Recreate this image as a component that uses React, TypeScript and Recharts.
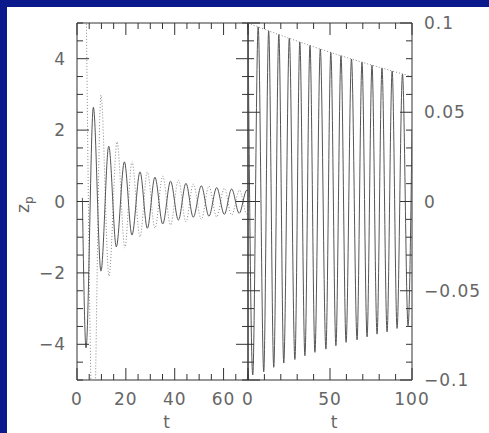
import React from 'react';
import { LineChart, Line, XAxis, YAxis, ReferenceArea } from 'recharts';

// left panel: z_p(t), solid and dotted runs (peaks / troughs)
const leftSolidT = [2.2, 3.7, 6.7, 9.8, 13.0, 16.1, 19.4, 22.5, 25.8, 28.8, 31.9, 35.1, 38.3, 41.5, 44.6, 47.6, 50.9, 54.0, 57.2, 60.3, 63.3, 66.4, 69.5, 70];
const leftSolidZ = [0.1, -4.1, 2.64, -1.95, 1.55, -1.27, 1.11, -0.94, 0.83, -0.75, 0.68, -0.63, 0.57, -0.52, 0.51, -0.44, 0.44, -0.41, 0.39, -0.36, 0.35, -0.33, 0.32, 0.31];
const leftDotT = [3.5, 6.7, 9.8, 13.1, 16.4, 19.6, 22.5, 25.8, 28.8, 31.9, 35.1, 38.3, 41.5, 44.6, 47.6, 50.9, 54.0, 57.2, 60.3, 63.3, 66.5, 69.5, 70];
const leftDotZ = [7.5, -7.0, 2.98, -2.09, 1.67, -1.3, 1.12, -0.99, 0.83, -0.75, 0.71, -0.66, 0.6, -0.57, 0.49, -0.5, 0.43, -0.43, 0.37, -0.38, 0.32, -0.35, -0.34];

// right panel: zoomed run and its envelope
const rightSolidT = [0, 2.9, 6.2, 9.6, 12.6, 15.7, 18.8, 21.8, 25.2, 28.6, 31.6, 34.7, 37.8, 40.8, 44.1, 47.5, 50.5, 53.6, 56.7, 59.8, 63.1, 66.5, 69.5, 72.6, 75.6, 78.7, 81.7, 84.8, 87.9, 90.9, 94.2, 97.6, 100];
const rightSolidZ = [0.099, -0.0972, 0.0978, -0.0954, 0.0956, -0.0929, 0.0935, -0.0905, 0.0914, -0.0885, 0.0893, -0.0864, 0.0874, -0.0845, 0.0854, -0.0827, 0.0835, -0.0808, 0.0817, -0.0789, 0.0798, -0.0775, 0.078, -0.0758, 0.0763, -0.0743, 0.0747, -0.073, 0.0731, -0.0711, 0.0714, -0.0696, 0.04];
const envT = [0, 20, 40, 60, 80, 100];
const envZ = [0.1, 0.0931, 0.0867, 0.0807, 0.0752, 0.07];

const leftXTicks = [0, 5, 10, 15, 20, 25, 30, 35, 40, 45, 50, 55, 60, 65, 70];
const leftXLabels = [0, 20, 40, 60];
const leftYTicks = [-5, -4.5, -4, -3.5, -3, -2.5, -2, -1.5, -1, -0.5, 0, 0.5, 1, 1.5, 2, 2.5, 3, 3.5, 4, 4.5, 5];
const leftYLabels = [-4, -2, 0, 2, 4];
const rightXTicks = [0, 10, 20, 30, 40, 50, 60, 70, 80, 90, 100];
const rightXLabels = [0, 50, 100];
const rightYTicks = [-0.1, -0.09, -0.08, -0.07, -0.06, -0.05, -0.04, -0.03, -0.02, -0.01, 0, 0.01, 0.02, 0.03, 0.04, 0.05, 0.06, 0.07, 0.08, 0.09, 0.1];
const rightYLabels = [-0.1, -0.05, 0, 0.05, 0.1];

const zip = (t: number[], z: number[]) => t.map((v, i) => ({ t: v, z: z[i] }));

const TOP = 23;
const BOTTOM = 380;
const PLOT_H = BOTTOM - TOP;
const LEFT_W = 171;
const RIGHT_W = 164;

const BLUE = '#0a198c';
const FRAME = '#333';
const INK = '#666';
const FONT = '"DejaVu Sans", sans-serif';
const MAJOR = 12;
const MINOR = 6;

const has = (list: number[], v: number) => list.some((l) => Math.abs(l - v) < 1e-9);
const fmt = (v: number) => (v < 0 ? '\u2212' + String(-v) : String(v));

const makeXTick = (labels: number[]) => (props: any) => {
  const { x, y, payload } = props;
  const major = has(labels, payload.value);
  const len = major ? MAJOR : MINOR;
  return (
    <g>
      <line x1={x} y1={y} x2={x} y2={y - len} stroke={FRAME} />
      <line x1={x} y1={y - PLOT_H} x2={x} y2={y - PLOT_H + len} stroke={FRAME} />
      {major && (
        <text x={x} y={y + 25} textAnchor="middle" fill={INK} fontSize={17} fontFamily={FONT} letterSpacing={1}>
          {fmt(payload.value)}
        </text>
      )}
    </g>
  );
};

const makeYTick = (labels: number[], width: number, side: 'left' | 'right') => (props: any) => {
  const { x, y, payload } = props;
  const major = has(labels, payload.value);
  const len = major ? MAJOR : MINOR;
  const dir = side === 'left' ? 1 : -1;
  const far = x + dir * width;
  return (
    <g>
      <line x1={x} y1={y} x2={x + dir * len} y2={y} stroke={FRAME} />
      <line x1={far} y1={y} x2={far - dir * len} y2={y} stroke={FRAME} />
      {major && (
        <text
          x={side === 'left' ? x - 11 : x + 12}
          y={y + 6}
          textAnchor={side === 'left' ? 'end' : 'start'}
          fill={INK}
          fontSize={17}
          fontFamily={FONT}
          letterSpacing={1}
        >
          {fmt(payload.value)}
        </text>
      )}
    </g>
  );
};

const tLabel = (props: any) => {
  const { viewBox } = props;
  return (
    <text x={viewBox.x + viewBox.width / 2 + 4} y={BOTTOM + 48} textAnchor="middle" fill={INK} fontSize={17} fontFamily={FONT}>
      t
    </text>
  );
};

const zLabel = () => (
  <text x={29} y={213} transform="rotate(-90, 29, 213)" fill={INK} fontSize={17} fontFamily={FONT}>
    z
    <tspan fontSize={12} dy={4}>p</tspan>
  </text>
);

export default function App() {
  return (
    <div style={{ position: 'fixed', left: 0, top: 0, width: 489, height: 433, background: '#fff' }}>
      <div style={{ position: 'absolute', left: 0, top: 0 }}>
        <LineChart width={260} height={433} margin={{ top: TOP, left: 76, right: 12, bottom: 433 - BOTTOM - 1 }}>
          <XAxis
            dataKey="t"
            type="number"
            domain={[0, 70]}
            allowDataOverflow
            ticks={leftXTicks}
            interval={0}
            height={1}
            tickSize={0}
            tickMargin={0}
            tickLine={false}
            axisLine={false}
            tick={makeXTick(leftXLabels)}
            label={tLabel}
          />
          <YAxis
            type="number"
            domain={[-5, 5]}
            allowDataOverflow
            ticks={leftYTicks}
            interval={0}
            width={1}
            tickSize={0}
            tickMargin={0}
            tickLine={false}
            axisLine={false}
            tick={makeYTick(leftYLabels, LEFT_W, 'left')}
            label={zLabel}
          />
          <ReferenceArea x1={0} x2={70} y1={-5} y2={5} fill="none" stroke={FRAME} strokeWidth={1} />
          <Line data={zip(leftDotT, leftDotZ)} dataKey="z" type="monotone" stroke="#888" strokeWidth={1} strokeDasharray="1 2" dot={false} isAnimationActive={false} />
          <Line data={zip(leftSolidT, leftSolidZ)} dataKey="z" type="monotone" stroke="#555" strokeWidth={1} dot={false} isAnimationActive={false} />
        </LineChart>
      </div>
      <div style={{ position: 'absolute', left: 240, top: 0 }}>
        <LineChart width={249} height={433} margin={{ top: TOP, left: 8, right: 76, bottom: 433 - BOTTOM - 1 }}>
          <XAxis
            dataKey="t"
            type="number"
            domain={[0, 100]}
            allowDataOverflow
            ticks={rightXTicks}
            interval={0}
            height={1}
            tickSize={0}
            tickMargin={0}
            tickLine={false}
            axisLine={false}
            tick={makeXTick(rightXLabels)}
            label={tLabel}
          />
          <YAxis
            orientation="right"
            type="number"
            domain={[-0.1, 0.1]}
            allowDataOverflow
            ticks={rightYTicks}
            interval={0}
            width={1}
            tickSize={0}
            tickMargin={0}
            tickLine={false}
            axisLine={false}
            tick={makeYTick(rightYLabels, RIGHT_W, 'right')}
          />
          <ReferenceArea x1={0} x2={100} y1={-0.1} y2={0.1} fill="none" stroke={FRAME} strokeWidth={1} />
          <Line data={zip(envT, envZ)} dataKey="z" type="monotone" stroke="#888" strokeWidth={1} strokeDasharray="1 2" dot={false} isAnimationActive={false} />
          <Line data={zip(rightSolidT, rightSolidZ)} dataKey="z" type="monotone" stroke="#555" strokeWidth={1} dot={false} isAnimationActive={false} />
        </LineChart>
      </div>
      <div style={{ position: 'absolute', left: 0, top: 0, width: 489, height: 7, backgroundColor: BLUE }} />
      <div style={{ position: 'absolute', left: 0, top: 0, width: 7, height: 433, backgroundColor: BLUE }} />
    </div>
  );
}
